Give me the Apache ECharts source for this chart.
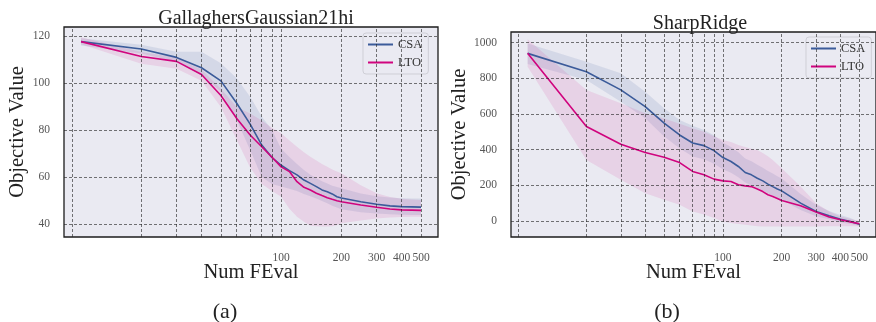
<!DOCTYPE html>
<html>
<head>
<meta charset="utf-8">
<script src="https://cdn.jsdelivr.net/npm/echarts@6/dist/echarts.min.js"></script>
<style>
  html, body { margin: 0; padding: 0; background: #ffffff; }
  #chart { width: 876px; height: 322px; }
</style>
</head>
<body>
<div id="chart"></div>
<script>
// Function evaluations at which both optimizers were logged
const fevals = [10, 20, 30, 40, 50, 60, 70, 80, 90, 100, 110, 120, 130, 140, 150, 160, 170, 180, 190, 200, 250, 300, 350, 400, 450, 500];

// (a) GallaghersGaussian21hi
const csaMeanA = [117.6, 114.5, 110.9, 106.5, 100.9, 91.4, 82.5, 73.6, 68.3, 65.0, 62.7, 60.9, 58.7, 57.3, 55.9, 54.5, 53.7, 52.8, 51.6, 51.1, 49.5, 48.4, 47.7, 47.4, 47.3, 47.2];
const csaLoA   = [116.0, 112.6, 109.0, 103.4, 96.3, 84.3, 71.5, 60.0, 57.0, 56.0, 55.0, 54.0, 52.8, 51.8, 50.8, 49.8, 48.8, 47.8, 47.0, 46.3, 45.0, 44.5, 44.1, 43.9, 43.8, 43.8];
const csaHiA   = [119.0, 116.3, 113.3, 113.3, 108.4, 102.0, 94.2, 85.7, 80.0, 72.0, 68.5, 65.5, 63.0, 61.0, 59.5, 58.2, 57.2, 56.3, 55.7, 55.2, 53.0, 51.8, 51.3, 51.0, 50.9, 50.9];
const ltoMeanA = [117.6, 111.3, 109.2, 103.6, 94.7, 84.9, 77.9, 72.9, 68.4, 64.3, 62.3, 58.0, 55.6, 54.5, 53.1, 52.1, 51.2, 50.5, 49.9, 49.5, 48.1, 47.1, 46.4, 46.0, 45.9, 45.8];
const ltoLoA   = [116.5, 108.2, 106.1, 101.0, 89.8, 75.7, 64.0, 57.0, 54.0, 51.6, 46.5, 43.1, 41.0, 39.3, 39.0, 38.9, 38.9, 39.0, 39.5, 40.3, 41.5, 42.3, 42.8, 43.0, 43.1, 43.1];
const ltoHiA   = [119.5, 113.2, 110.8, 105.7, 97.6, 89.8, 87.0, 84.0, 81.0, 78.6, 75.5, 72.9, 70.5, 68.6, 67.0, 65.5, 64.4, 63.2, 62.3, 61.6, 56.5, 53.1, 51.5, 50.7, 50.4, 50.2];

// (b) SharpRidge
const csaMeanB = [940, 837, 735, 641, 548, 482, 437, 422, 394, 355, 333, 305, 271, 258, 239, 224, 206, 192, 179, 168, 99, 52, 28, 9, -4, -19];
const csaLoB   = [880, 790, 669, 576, 473, 408, 361, 345, 320, 290, 270, 245, 215, 200, 185, 170, 155, 140, 128, 118, 60, 25, 8, -8, -18, -28];
const csaHiB   = [995, 893, 828, 725, 632, 566, 533, 510, 480, 440, 415, 385, 350, 335, 315, 298, 280, 265, 250, 238, 150, 90, 55, 32, 15, -8];
const ltoMeanB = [940, 529, 430, 383, 357, 327, 277, 258, 234, 224, 221, 202, 196, 192, 179, 164, 146, 136, 125, 114, 84, 49, 21, 6, -6, -17];
const ltoLoB   = [865, 342, 230, 155, 118, 90, 52, 35, 15, -4, -12, -18, -22, -26, -30, -32, -32, -32, -32, -32, -32, -32, -31, -30, -30, -30];
const ltoHiB   = [1019, 735, 660, 604, 575, 545, 520, 500, 475, 454, 442, 426, 415, 405, 398, 380, 362, 342, 318, 295, 192, 99, 52, 24, 10, 0];

// Axis decorations
const xGridValues = [9, 20, 30, 40, 50, 60, 70, 80, 90, 100, 200, 300, 400, 500];
const xTickLabels = [100, 200, 300, 400, 500];
const yTicksA = [40, 60, 80, 100, 120];
const yTicksB = [0, 200, 400, 600, 800, 1000];
const panelTitles = ['GallaghersGaussian21hi', 'SharpRidge'];
const panelTags = ['(a)', '(b)'];

const SERIF = "'Liberation Serif', 'DejaVu Serif', serif";
const CSA_COLOR = '#3b5b9a';
const LTO_COLOR = '#d0047e';
const CSA_BAND = 'rgba(59, 91, 154, 0.12)';
const LTO_BAND = 'rgba(208, 4, 126, 0.10)';
const GRID_LINE = { color: 'rgba(35, 35, 35, 0.62)', width: 1, type: [3, 2] };
const TICK_TEXT = { color: '#555', fontFamily: SERIF, fontSize: 11.5 };

const pairs = (ys) => fevals.map((x, i) => [x, ys[i]]);

// Shaded spread between lower and upper curves, drawn as one polygon
function band(name, lo, hi, color, idx) {
  const rows = fevals.map((x, i) => [x, lo[i], hi[i]]);
  return {
    type: 'custom', name, xAxisIndex: idx, yAxisIndex: idx, silent: true, z: 1, clip: true,
    data: rows, encode: { x: 0, y: [1, 2] },
    renderItem(params, api) {
      if (params.dataIndex !== 0) return null;
      const top = rows.map(r => api.coord([r[0], r[2]]));
      const bottom = rows.map(r => api.coord([r[0], r[1]])).reverse();
      return { type: 'polygon', shape: { points: top.concat(bottom) }, style: { fill: color } };
    }
  };
}

function meanLine(name, ys, color, idx) {
  return {
    type: 'line', name, xAxisIndex: idx, yAxisIndex: idx, data: pairs(ys),
    symbol: 'none', z: 4, lineStyle: { color, width: 1.6 }, itemStyle: { color },
    emphasis: { disabled: true }
  };
}

// Dashed grid on both axes; the labelled lines carry the tick labels
function gridLines(idx, yTicks) {
  const vertical = xGridValues.map(v => ({
    xAxis: v,
    label: xTickLabels.includes(v)
      ? Object.assign({ show: true, position: 'start', distance: 15, formatter: String(v) }, TICK_TEXT)
      : { show: false }
  }));
  const horizontal = yTicks.map(v => ({
    yAxis: v,
    label: Object.assign({ show: true, position: 'start', distance: 14, formatter: String(v) }, TICK_TEXT)
  }));
  return {
    type: 'line', name: 'grid' + idx, xAxisIndex: idx, yAxisIndex: idx, data: [], z: 0, silent: true,
    markLine: {
      silent: true, symbol: 'none', animation: false,
      lineStyle: GRID_LINE,
      data: vertical.concat(horizontal)
    }
  };
}

const grids = [
  { left: 64, top: 27, width: 374, height: 210 },
  { left: 511, top: 32, width: 369, height: 205 }
];

const legendBase = {
  data: ['CSA', 'LTO'], orient: 'vertical', padding: [5, 6, 5, 5],
  icon: 'rect', itemWidth: 25, itemHeight: 2, itemGap: 5,
  backgroundColor: 'rgba(234, 234, 242, 0.85)', borderColor: '#cfcfd6', borderWidth: 1, borderRadius: 3,
  textStyle: { fontFamily: SERIF, fontSize: 12.5, color: '#333', lineHeight: 12 }, selectedMode: false
};

const titleText = { fontFamily: SERIF, fontSize: 20, fontWeight: 'normal', color: '#222' };
const tagText = { fontFamily: SERIF, fontSize: 22, fontWeight: 'normal', color: '#222' };

const chart = echarts.init(document.getElementById('chart'), null, { renderer: 'canvas' });

chart.setOption({
  animation: false,
  backgroundColor: '#ffffff',
  title: [
    { text: panelTitles[0], left: 251, top: 4, textAlign: 'center', textStyle: titleText },
    { text: panelTitles[1], left: 695, top: 9, textAlign: 'center', textStyle: titleText },
    { text: panelTags[0], left: 220, top: 296, textAlign: 'center', textStyle: tagText },
    { text: panelTags[1], left: 662, top: 296, textAlign: 'center', textStyle: tagText }
  ],
  legend: [
    Object.assign({ left: 363, top: 33 }, legendBase),
    Object.assign({ left: 806, top: 37 }, legendBase)
  ],
  grid: grids.map(g => Object.assign({
    show: true, backgroundColor: '#eaeaf2', borderColor: '#1c1c1c', borderWidth: 1.3, containLabel: false
  }, g)),
  xAxis: [0, 1].map(i => ({
    type: 'log', logBase: 10, gridIndex: i, min: 8.22, max: 608,
    axisLine: { show: false }, axisTick: { show: false }, axisLabel: { show: false },
    splitLine: { show: false }, minorSplitLine: { show: false },
    name: 'Num FEval', nameLocation: 'middle', nameGap: 25,
    nameTextStyle: { fontFamily: SERIF, fontSize: 20.5, color: '#222' }
  })),
  yAxis: [
    { gridIndex: 0, min: 34.47, max: 123.83, gap: 36 },
    { gridIndex: 1, min: -91, max: 1060, gap: 41 }
  ].map(a => ({
    type: 'value', gridIndex: a.gridIndex, min: a.min, max: a.max,
    axisLine: { show: false }, axisTick: { show: false }, axisLabel: { show: false },
    splitLine: { show: false },
    name: 'Objective Value', nameLocation: 'middle', nameGap: a.gap, nameRotate: 90,
    nameTextStyle: { fontFamily: SERIF, fontSize: 20.5, color: '#222' }
  })),
  series: [
    gridLines(0, yTicksA),
    band('CSA spread a', csaLoA, csaHiA, CSA_BAND, 0),
    band('LTO spread a', ltoLoA, ltoHiA, LTO_BAND, 0),
    meanLine('CSA', csaMeanA, CSA_COLOR, 0),
    meanLine('LTO', ltoMeanA, LTO_COLOR, 0),
    gridLines(1, yTicksB),
    band('CSA spread b', csaLoB, csaHiB, CSA_BAND, 1),
    band('LTO spread b', ltoLoB, ltoHiB, LTO_BAND, 1),
    meanLine('CSA', csaMeanB, CSA_COLOR, 1),
    meanLine('LTO', ltoMeanB, LTO_COLOR, 1)
  ]
});
</script>
</body>
</html>
